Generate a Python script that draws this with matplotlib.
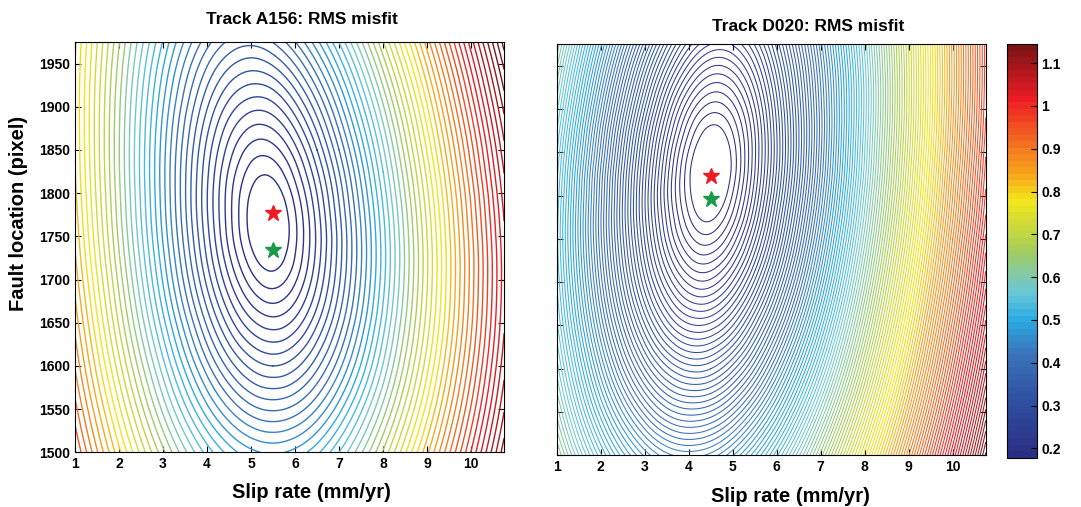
import numpy as np
import matplotlib
matplotlib.use("Agg")
import matplotlib.pyplot as plt
import matplotlib.tri as mtri
from matplotlib.colors import LinearSegmentedColormap, ListedColormap, Normalize

plt.rcParams["font.family"] = ["Liberation Sans", "DejaVu Sans"]
plt.rcParams["font.weight"] = "bold"

# grid nodes (slip rate mm/yr, fault location pixel) and RMS misfit (x 1000)
slip_a = [1, 2, 3, 4, 4.5, 5, 5.5, 6, 6.5, 7, 8, 9, 10, 10.75]
loc_a = [1500, 1550, 1600, 1650, 1700, 1725, 1750, 1775, 1800, 1825, 1850, 1900, 1950, 1975]
misfit_a = [
    [957, 801, 661, 547, 507, 481, 472, 482, 510, 555, 678, 830, 996, 1127],
    [923, 760, 609, 482, 435, 403, 392, 403, 436, 487, 623, 784, 958, 1093],
    [893, 723, 563, 422, 367, 329, 315, 329, 369, 427, 577, 748, 929, 1068],
    [868, 692, 523, 370, 306, 261, 244, 262, 312, 380, 545, 724, 910, 1052],
    [847, 668, 492, 328, 257, 204, 184, 211, 273, 351, 527, 713, 903, 1046],
    [838, 658, 481, 313, 239, 183, 164, 196, 263, 345, 524, 712, 903, 1047],
    [831, 650, 472, 303, 227, 170, 152, 190, 260, 344, 526, 715, 907, 1051],
    [825, 644, 466, 297, 223, 167, 153, 193, 265, 350, 532, 721, 913, 1057],
    [820, 640, 463, 296, 224, 173, 163, 205, 276, 360, 542, 730, 921, 1066],
    [816, 637, 462, 300, 232, 187, 182, 224, 293, 375, 555, 742, 933, 1076],
    [814, 636, 464, 308, 246, 207, 207, 248, 315, 395, 571, 757, 946, 1089],
    [812, 639, 476, 337, 287, 262, 268, 308, 369, 444, 612, 793, 980, 1121],
    [815, 649, 498, 378, 341, 326, 339, 377, 434, 503, 664, 839, 1022, 1161],
    [818, 657, 513, 403, 371, 361, 376, 414, 469, 536, 693, 865, 1046, 1184],
]

slip_d = [1, 2, 3, 3.5, 4, 4.5, 5, 5.5, 6, 7, 8, 9, 10, 10.75]
loc_d = [1500, 1550, 1600, 1650, 1700, 1750, 1775, 1800, 1825, 1850, 1875, 1900, 1950, 1975]
misfit_d = [
    [630, 533, 465, 446, 440, 446, 466, 497, 537, 639, 759, 890, 1027, 1133],
    [600, 494, 416, 392, 383, 388, 408, 441, 484, 592, 717, 852, 993, 1101],
    [576, 461, 371, 342, 328, 331, 352, 387, 434, 548, 679, 818, 962, 1072],
    [558, 434, 332, 296, 277, 278, 299, 338, 388, 509, 645, 788, 935, 1046],
    [547, 415, 301, 259, 233, 230, 252, 293, 347, 475, 616, 762, 911, 1024],
    [542, 405, 282, 232, 199, 191, 213, 257, 314, 448, 592, 740, 891, 1005],
    [543, 404, 277, 225, 188, 177, 198, 243, 302, 437, 582, 731, 882, 996],
    [546, 406, 276, 221, 182, 168, 188, 233, 292, 428, 574, 723, 875, 989],
    [550, 409, 279, 223, 181, 165, 182, 227, 285, 421, 567, 717, 869, 983],
    [556, 416, 285, 229, 186, 168, 182, 225, 282, 417, 563, 712, 863, 978],
    [564, 424, 294, 239, 196, 176, 188, 227, 283, 415, 560, 708, 859, 973],
    [574, 435, 307, 252, 210, 190, 199, 234, 287, 416, 558, 706, 856, 970],
    [597, 462, 339, 288, 249, 228, 232, 259, 305, 424, 561, 706, 854, 967],
    [611, 478, 359, 309, 271, 251, 252, 276, 318, 432, 566, 708, 855, 967],
]

# best-fit (red) and alternative (green) solutions
best_a, alt_a = (5.5, 1777), (5.5, 1734)
best_d, alt_d = (4.5, 1823), (4.5, 1796)

cbar_ticks = [0.2, 0.3, 0.4, 0.5, 0.6, 0.7, 0.8, 0.9, 1.0, 1.1]
cbar_labels = ["0.2", "0.3", "0.4", "0.5", "0.6", "0.7", "0.8", "0.9", "1", "1.1"]

# printed-looking jet, 64 steps like the MATLAB default
anchors = ["#2b2f84", "#2e4e9f", "#3b75bb", "#29aae2", "#6cc8d6", "#a3cc5a",
           "#f4e61a", "#f7a21b", "#f47b20", "#ed1c24", "#7d1416"]
pos = [0.0, 0.125, 0.25, 0.33, 0.40, 0.5, 0.625, 0.69, 0.75, 0.875, 1.0]
base = LinearSegmentedColormap.from_list("pjet", list(zip(pos, anchors)))
cmap = ListedColormap(base(np.linspace(0, 1, 64)))
norm = Normalize(0.178, 1.144)


def smooth(xs, ys, z):
    # refine the coarse grid with matplotlib's cubic tri interpolator (y scaled to grid units)
    X, Y = np.meshgrid(xs, ys)
    v = (Y.ravel() - ys[0]) / 50.0
    tri = mtri.Triangulation(X.ravel(), v)
    tri_f, z_f = mtri.UniformTriRefiner(tri).refine_field(np.ravel(z) / 1000.0, subdiv=3)
    return mtri.Triangulation(tri_f.x, tri_f.y * 50.0 + ys[0], tri_f.triangles), z_f


fig = plt.figure(figsize=(10.81, 5.07), dpi=100)
ax1 = fig.add_axes([0.0694, 0.1079, 0.3969, 0.8093])
ax2 = fig.add_axes([0.515, 0.102, 0.3969, 0.8107])
cax = fig.add_axes([0.9318, 0.0972, 0.0272, 0.8154])

panels = [
    (ax1, slip_a, loc_a, misfit_a, 0.175, 0.02, 1.0, best_a, alt_a, "Track A156: RMS misfit",
     0.53, 1.054, 0.552, -0.099),
    (ax2, slip_d, loc_d, misfit_d, 0.179, 0.008, 0.75, best_d, alt_d, "Track D020: RMS misfit",
     0.585, 1.042, 0.544, -0.101),
]
for ax, xs, ys, z, lev0, step, lw, best, alt, title, tx, ty, lx, ly in panels:
    tri, zf = smooth(xs, ys, z)
    levels = np.arange(lev0, 1.3, step)
    ax.tricontour(tri, zf, levels=levels, cmap=cmap, norm=norm, linewidths=lw)
    ax.plot(*best, marker="*", ms=12, color="#ed1c24", mew=1)
    ax.plot(*alt, marker="*", ms=12, color="#1a9a48", mew=1)
    ax.set_xlim(1, 10.75)
    ax.set_ylim(1500, 1975)
    ax.set_xticks(range(1, 11))
    ax.set_yticks(range(1500, 1951, 50))
    ax.tick_params(direction="in", top=True, right=True, length=4, labelsize=10)
    ax.text(tx, ty, title, transform=ax.transAxes, ha="center", va="center",
            fontsize=12.5, fontweight="bold")
    ax.text(lx, ly, "Slip rate (mm/yr)", transform=ax.transAxes, ha="center", va="center",
            fontsize=14.5, fontweight="bold")

ax1.text(-0.131, 0.581, "Fault location (pixel)", transform=ax1.transAxes, rotation=90,
         ha="center", va="center", fontsize=14.5, fontweight="bold")
ax2.set_yticklabels([])

sm = plt.cm.ScalarMappable(norm=norm, cmap=cmap)
cb = fig.colorbar(sm, cax=cax)
cb.set_ticks(cbar_ticks)
cb.set_ticklabels(cbar_labels)
cax.tick_params(direction="in", length=4, labelsize=10)

fig.savefig("out.png", dpi=100)
